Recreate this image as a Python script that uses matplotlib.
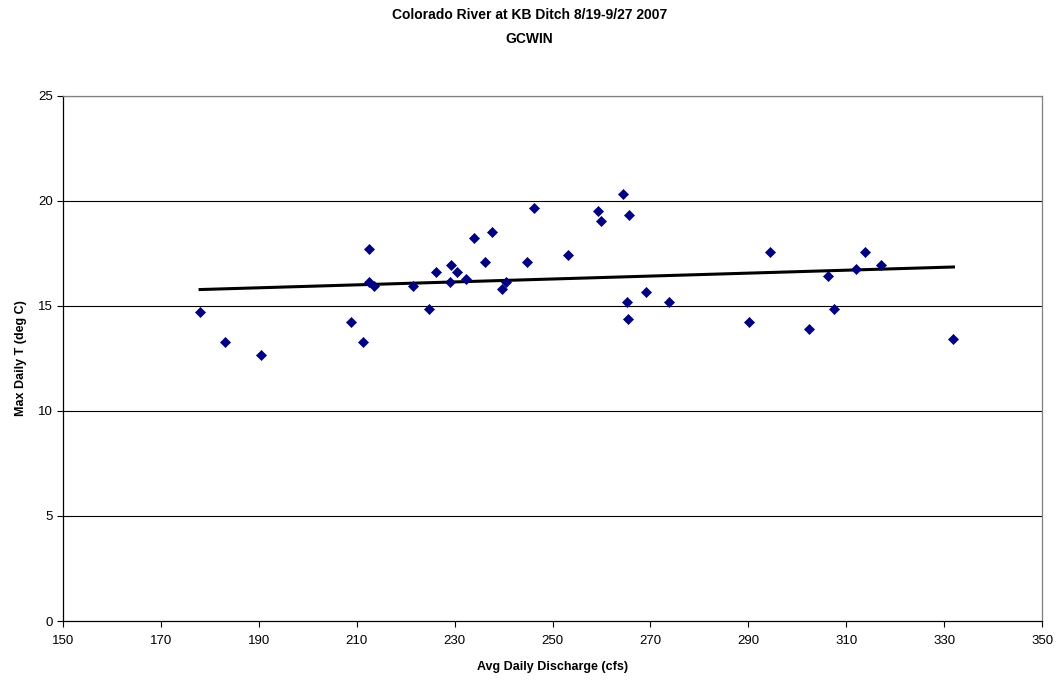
import numpy as np
import matplotlib
matplotlib.use("Agg")
import matplotlib.pyplot as plt

plt.rcParams['font.family'] = ['Liberation Sans', 'DejaVu Sans']

discharge_cfs = [178.0, 183.0, 190.5, 208.8, 211.3, 212.6, 212.5, 213.5, 221.4,
                 224.8, 226.2, 229.2, 229.1, 230.4, 232.3, 233.9, 236.3, 237.7,
                 239.6, 240.4, 244.7, 246.2, 253.2, 259.3, 259.8, 264.3, 265.6,
                 265.2, 265.4, 269.0, 273.7, 290.1, 294.5, 302.3, 306.3, 307.5,
                 312.0, 313.8, 317.1, 331.9]
max_temp_c = [14.69, 13.30, 12.68, 14.21, 13.30, 17.71, 16.13, 15.95, 15.95,
              14.84, 16.60, 16.92, 16.11, 16.60, 16.29, 18.21, 17.08, 18.52,
              15.81, 16.13, 17.08, 19.67, 17.40, 19.51, 19.02, 20.32, 19.33,
              15.16, 14.35, 15.64, 15.16, 14.21, 17.56, 13.88, 16.43, 14.84,
              16.75, 17.56, 16.94, 13.43]

x_ticks = list(range(150, 351, 20))
y_ticks = [0, 5, 10, 15, 20, 25]

x = np.array(discharge_cfs)
y = np.array(max_temp_c)

fig = plt.figure(figsize=(10.59, 6.81), dpi=100)
ax = fig.add_axes([0.0595, 0.0881, 0.9245, 0.7714])

ax.set_xlim(150, 350)
ax.set_ylim(0, 25)
ax.set_xticks(x_ticks)
ax.set_yticks(y_ticks)

for v in y_ticks[1:]:
    ax.axhline(v, color='black', lw=0.8, zorder=1)

# linear trendline
slope, intercept = np.polyfit(x, y, 1)
xt = np.array([x.min(), x.max()])
ax.plot(xt, slope * xt + intercept, color='black', lw=2.2, zorder=3)

ax.scatter(x, y, marker='D', s=26, color='#000080', edgecolors='#000080',
           linewidths=0.5, zorder=4)

for side in ['left', 'bottom']:
    ax.spines[side].set_color('black')
    ax.spines[side].set_linewidth(0.9)
for side in ['right', 'top']:
    ax.spines[side].set_color('#808080')
    ax.spines[side].set_linewidth(0.9)

ax.tick_params(axis='both', direction='out', length=4, width=0.8,
               labelsize=9.5, colors='black')
ax.tick_params(axis='x', pad=6)

ax.set_xlabel('Avg Daily Discharge (cfs)', fontsize=9, fontweight='bold', labelpad=10)
ax.set_ylabel('Max Daily T (deg C)', fontsize=9, fontweight='bold', labelpad=8)

fig.text(0.5, 0.988, 'Colorado River at KB Ditch 8/19-9/27 2007\nGCWIN',
         ha='center', va='top', fontsize=10, fontweight='bold', linespacing=1.9)

fig.savefig('out.png', dpi=100)
